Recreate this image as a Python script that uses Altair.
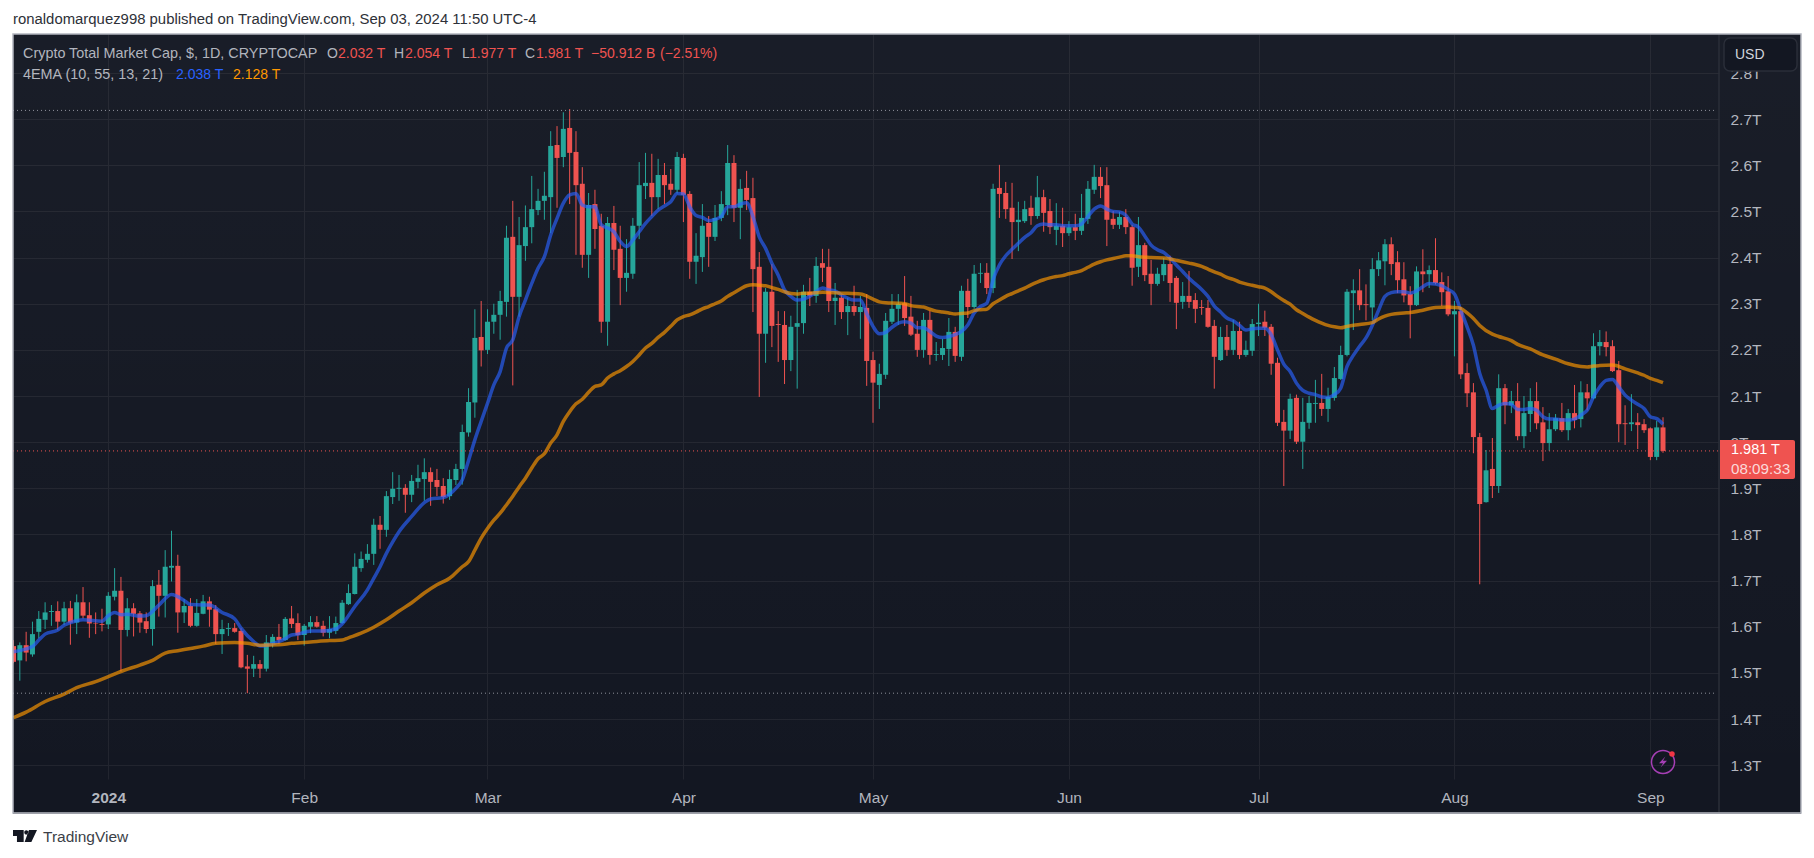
import altair as alt
import pandas as pd

first_session = "2023-12-17"

opens = [1.558,1.527,1.560,1.540,1.589,1.615,1.632,1.634,1.611,1.640,
1.609,1.653,1.625,1.608,1.606,1.605,1.665,1.678,1.593,1.640,
1.629,1.612,1.595,1.691,1.667,1.728,1.732,1.631,1.645,1.602,
1.628,1.655,1.638,1.584,1.595,1.597,1.591,1.514,1.509,1.519,
1.509,1.564,1.578,1.571,1.618,1.608,1.582,1.600,1.610,1.602,
1.587,1.591,1.608,1.649,1.671,1.727,1.745,1.758,1.821,1.810,
1.881,1.899,1.901,1.886,1.914,1.920,1.935,1.918,1.905,1.883,
1.918,1.942,2.021,2.086,2.228,2.200,2.261,2.276,2.304,2.445,
2.315,2.425,2.466,2.503,2.523,2.531,2.644,2.618,2.681,2.629,
2.560,2.406,2.516,2.469,2.261,2.475,2.419,2.356,2.365,2.469,
2.555,2.562,2.531,2.579,2.560,2.547,2.616,2.538,2.391,2.401,
2.475,2.445,2.486,2.514,2.605,2.508,2.551,2.529,2.380,2.235,
2.326,2.256,2.254,2.178,2.250,2.258,2.326,2.317,2.388,2.380,
2.306,2.313,2.282,2.295,2.282,2.291,2.178,2.124,2.146,2.261,
2.289,2.301,2.272,2.235,2.200,2.265,2.189,2.189,2.202,2.239,
2.185,2.328,2.293,2.365,2.367,2.334,2.551,2.540,2.508,2.477,
2.479,2.508,2.490,2.531,2.501,2.460,2.469,2.453,2.466,2.458,
2.484,2.547,2.575,2.557,2.484,2.471,2.488,2.466,2.380,2.427,
2.365,2.343,2.362,2.386,2.356,2.304,2.317,2.308,2.293,2.291,
2.252,2.178,2.228,2.200,2.241,2.189,2.198,2.256,2.261,2.250,
2.172,2.044,2.025,2.096,2.001,2.042,2.083,2.085,2.072,2.096,
2.137,2.189,2.323,2.329,2.299,2.292,2.375,2.392,2.429,2.390,
2.353,2.321,2.297,2.370,2.364,2.373,2.347,2.327,2.277,2.284,
2.150,2.108,2.011,1.870,1.942,1.905,2.117,2.080,2.089,2.013,
2.061,2.089,2.043,1.998,2.028,2.052,2.026,2.063,2.050,2.108,
2.095,2.208,2.217,2.208,2.156,2.041,2.039,2.043,2.039,2.030,
1.968,2.032]

closes = [1.524,1.560,1.544,1.584,1.617,1.631,1.634,1.611,1.640,1.609,
1.653,1.624,1.607,1.607,1.604,1.667,1.678,1.593,1.640,1.628,
1.609,1.595,1.688,1.667,1.730,1.732,1.631,1.645,1.602,1.630,
1.655,1.637,1.584,1.595,1.597,1.589,1.512,1.509,1.519,1.509,
1.566,1.578,1.571,1.617,1.606,1.582,1.602,1.610,1.600,1.587,
1.595,1.608,1.652,1.673,1.730,1.747,1.758,1.821,1.810,1.883,
1.899,1.901,1.886,1.916,1.922,1.935,1.914,1.903,1.881,1.920,
1.942,2.022,2.087,2.226,2.199,2.261,2.276,2.306,2.443,2.315,
2.427,2.466,2.505,2.523,2.534,2.642,2.616,2.679,2.627,2.557,
2.406,2.514,2.462,2.261,2.475,2.417,2.356,2.367,2.469,2.557,
2.562,2.531,2.579,2.557,2.547,2.618,2.536,2.391,2.404,2.469,
2.445,2.486,2.516,2.605,2.508,2.549,2.525,2.375,2.235,2.326,
2.252,2.254,2.178,2.250,2.258,2.326,2.317,2.382,2.378,2.306,
2.313,2.282,2.295,2.282,2.293,2.176,2.129,2.148,2.263,2.289,
2.300,2.269,2.233,2.200,2.265,2.189,2.191,2.204,2.239,2.187,
2.328,2.293,2.365,2.367,2.334,2.549,2.538,2.505,2.477,2.482,
2.505,2.490,2.531,2.497,2.466,2.469,2.453,2.466,2.458,2.486,
2.549,2.575,2.555,2.482,2.471,2.488,2.466,2.378,2.427,2.362,
2.343,2.365,2.386,2.345,2.302,2.317,2.304,2.289,2.291,2.250,
2.185,2.228,2.200,2.241,2.189,2.200,2.256,2.259,2.248,2.170,
2.042,2.025,2.094,2.001,2.044,2.085,2.085,2.072,2.098,2.139,
2.189,2.326,2.329,2.297,2.297,2.375,2.394,2.429,2.386,2.351,
2.318,2.297,2.370,2.364,2.373,2.345,2.325,2.277,2.284,2.147,
2.106,2.011,1.866,1.939,1.905,2.117,2.080,2.089,2.013,2.063,
2.089,2.041,1.998,2.028,2.052,2.026,2.063,2.048,2.108,2.095,
2.208,2.217,2.206,2.154,2.039,2.039,2.043,2.037,2.026,1.968,
2.032,1.981]

highs = [1.571,1.566,1.589,1.611,1.634,1.653,1.647,1.655,1.654,1.656,
1.670,1.686,1.653,1.631,1.639,1.675,1.727,1.708,1.662,1.651,
1.634,1.631,1.701,1.723,1.766,1.808,1.756,1.660,1.662,1.660,
1.669,1.665,1.647,1.615,1.608,1.608,1.597,1.539,1.537,1.528,
1.582,1.584,1.606,1.621,1.645,1.629,1.606,1.623,1.623,1.613,
1.623,1.622,1.658,1.692,1.759,1.763,1.779,1.834,1.840,1.894,
1.935,1.929,1.909,1.929,1.951,1.965,1.945,1.942,1.922,1.940,
1.953,2.038,2.117,2.288,2.306,2.288,2.300,2.328,2.469,2.523,
2.488,2.513,2.577,2.549,2.586,2.674,2.685,2.715,2.722,2.674,
2.596,2.540,2.547,2.495,2.488,2.512,2.469,2.440,2.486,2.607,
2.627,2.625,2.614,2.605,2.592,2.629,2.625,2.544,2.453,2.516,
2.490,2.514,2.544,2.644,2.622,2.570,2.588,2.573,2.412,2.334,
2.386,2.284,2.284,2.274,2.330,2.341,2.356,2.401,2.419,2.419,
2.345,2.319,2.313,2.339,2.317,2.321,2.196,2.170,2.280,2.321,
2.321,2.360,2.317,2.263,2.280,2.285,2.217,2.224,2.269,2.250,
2.339,2.354,2.384,2.388,2.388,2.560,2.601,2.564,2.562,2.521,
2.523,2.534,2.577,2.547,2.527,2.518,2.508,2.479,2.495,2.538,
2.566,2.601,2.596,2.596,2.501,2.499,2.505,2.471,2.488,2.432,
2.395,2.378,2.399,2.404,2.360,2.347,2.371,2.323,2.308,2.308,
2.265,2.250,2.254,2.265,2.261,2.220,2.267,2.300,2.285,2.256,
2.183,2.070,2.105,2.103,2.096,2.100,2.135,2.148,2.118,2.163,
2.209,2.332,2.353,2.375,2.342,2.399,2.412,2.440,2.444,2.414,
2.390,2.338,2.381,2.418,2.383,2.442,2.368,2.360,2.306,2.293,
2.171,2.128,2.020,1.983,2.009,2.147,2.126,2.111,2.128,2.100,
2.117,2.130,2.076,2.063,2.061,2.085,2.072,2.124,2.132,2.126,
2.236,2.243,2.240,2.221,2.176,2.080,2.104,2.063,2.050,2.032,
2.046,2.054]

lows = [1.521,1.483,1.525,1.535,1.575,1.595,1.602,1.593,1.604,1.561,
1.584,1.618,1.576,1.584,1.590,1.595,1.657,1.503,1.579,1.579,
1.587,1.586,1.559,1.622,1.620,1.698,1.587,1.608,1.599,1.600,
1.627,1.600,1.563,1.541,1.580,1.587,1.510,1.456,1.491,1.489,
1.503,1.555,1.563,1.570,1.597,1.571,1.559,1.586,1.598,1.579,
1.575,1.584,1.606,1.647,1.670,1.719,1.739,1.734,1.769,1.795,
1.866,1.873,1.847,1.870,1.900,1.873,1.862,1.883,1.867,1.875,
1.907,1.908,2.012,2.053,2.164,2.191,2.235,2.222,2.272,2.123,
2.272,2.393,2.431,2.492,2.482,2.453,2.508,2.596,2.516,2.406,
2.378,2.356,2.419,2.237,2.209,2.373,2.297,2.326,2.354,2.440,
2.527,2.490,2.505,2.516,2.536,2.539,2.477,2.354,2.343,2.369,
2.380,2.436,2.479,2.492,2.477,2.440,2.503,2.282,2.098,2.172,
2.206,2.174,2.126,2.154,2.116,2.235,2.295,2.302,2.347,2.282,
2.254,2.267,2.232,2.274,2.224,2.122,2.042,2.072,2.137,2.256,
2.254,2.252,2.230,2.185,2.183,2.168,2.176,2.178,2.165,2.174,
2.176,2.269,2.289,2.345,2.321,2.323,2.486,2.484,2.397,2.414,
2.475,2.471,2.484,2.456,2.451,2.427,2.423,2.447,2.438,2.449,
2.473,2.538,2.529,2.425,2.462,2.462,2.451,2.339,2.358,2.349,
2.297,2.339,2.349,2.304,2.245,2.289,2.291,2.258,2.276,2.248,
2.116,2.176,2.187,2.189,2.180,2.185,2.187,2.230,2.230,2.146,
2.035,1.905,2.007,1.996,1.942,2.029,2.042,2.057,2.044,2.090,
2.135,2.186,2.243,2.286,2.264,2.264,2.360,2.340,2.362,2.323,
2.303,2.225,2.295,2.325,2.334,2.342,2.295,2.273,2.186,2.137,
2.076,1.976,1.692,1.869,1.879,1.890,2.039,2.063,2.004,1.987,
2.022,2.028,1.959,1.981,2.024,2.022,2.004,2.030,2.032,2.069,
2.093,2.188,2.186,2.152,2.000,1.994,2.024,1.985,2.020,1.961,
1.961,1.977]

# EMA 13: (session number, value)
blue_sessions = [1,4,5,6,8,9,11,12,15,16,17,18,19,21,22,24,26,28,29,31,32,34,36,37,39,40,43,44,45,46,48,50,52,53,55,57,58,59,60,61,62,64,66,67,69,71,72,73]
blue_sessions += list(range(74, 263))
blue_values = [1.546,1.557,1.571,1.584,1.593,1.603,1.613,1.615,1.612,1.624,1.631,1.626,1.627,1.623,1.624,1.647,1.670,1.657,1.648,1.647,1.647,1.631,1.617,1.597,1.568,1.558,1.568,1.574,1.582,1.584,1.591,1.591,1.595,1.606,1.644,1.680,1.705,1.730,1.759,1.784,1.806,1.839,1.869,1.877,1.880,1.900,1.918,1.960,
2.005,2.045,2.084,2.124,2.153,2.204,2.222,2.272,2.308,2.344,2.377,2.402,2.449,2.485,2.518,2.536,2.539,2.514,2.510,2.510,
2.471,2.464,2.456,2.435,2.424,2.438,2.456,2.474,2.489,2.503,2.512,2.521,2.539,2.538,2.510,2.491,2.487,2.480,2.483,2.489,
2.510,2.510,2.516,2.519,2.489,2.445,2.420,2.388,2.362,2.330,2.316,2.308,2.310,2.316,2.326,2.334,2.330,2.328,2.319,2.312,
2.308,2.308,2.279,2.251,2.235,2.238,2.249,2.258,
2.261,2.258,2.248,2.248,2.240,2.230,2.227,2.229,2.233,2.240,2.254,2.280,2.294,2.301,2.352,2.384,2.404,2.418,2.431,2.444,
2.454,2.469,2.473,2.471,2.471,2.469,2.469,2.469,2.473,2.489,2.505,2.512,2.505,2.500,2.499,2.492,2.473,2.466,2.447,2.427,
2.417,2.411,2.399,2.384,2.370,2.355,2.343,2.331,2.316,2.295,2.282,2.269,2.263,2.253,2.243,2.246,2.247,2.247,2.233,2.200,
2.169,2.153,2.128,2.112,2.106,2.103,2.098,2.097,2.103,2.117,2.164,
2.188,2.208,2.226,2.253,2.286,2.316,2.324,2.326,2.326,2.323,2.328,2.337,2.344,2.343,2.339,2.331,2.321,2.286,2.250,2.210,
2.149,2.113,2.073,2.080,2.084,2.082,2.071,2.071,2.073,2.069,2.055,2.050,2.050,2.048,2.048,2.050,2.059,2.069,2.098,2.120,
2.134,2.136,2.120,2.102,2.091,2.082,2.073,2.055,2.051,2.039]

# EMA 55: (session number, value)
orange_pairs_sessions = [1,3,6,9,11,14,16,18,21,23,25,27,29,31,33,36,38,40,43,45,48,51,53,54,56,58,60,62,64,66,68,70,72,73,74,75,76,77,
78,79,80,81,82,83,84,85]
orange_pairs_sessions += list(range(86, 128))
orange_pairs_sessions += [129,132,135,137,138,139,141]
orange_pairs_sessions += list(range(142, 181))
orange_pairs_sessions += list(range(181, 213))
orange_pairs_sessions.remove(182)
orange_pairs_sessions += [214,216,217,218,219,221,222,224,226,228,229,230,231,232,233,235,236,238,239,241,243,245,247,249,250,251,252,254,256,258,259,260,261,262]
orange_values = [1.403,1.415,1.438,1.454,1.468,1.481,1.492,1.503,1.517,1.527,1.543,1.548,1.553,1.558,1.564,1.566,1.564,1.560,1.561,1.564,1.567,1.570,1.571,1.576,1.586,1.599,1.615,1.634,1.652,1.673,1.691,1.705,1.730,1.741,1.766,1.792,1.813,1.831,
1.846,1.864,1.883,1.903,1.922,1.944,1.964,1.975,
1.998,2.016,2.045,2.066,2.083,2.093,2.108,2.121,2.124,2.139,2.148,2.155,2.164,2.175,2.189,2.204,2.214,2.227,2.238,2.251,
2.265,2.272,2.276,2.282,2.289,2.294,2.300,2.306,2.316,2.324,2.332,2.339,2.341,2.340,2.339,2.335,2.331,2.326,2.322,2.321,2.323,2.323,
2.325,2.323,2.321,2.310,2.304,2.302,2.301,
2.300,2.296,2.294,2.293,2.288,2.284,2.282,2.280,2.278,2.279,2.280,2.285,2.287,2.288,2.300,2.308,2.316,2.322,2.328,2.334,
2.341,2.347,2.352,2.356,2.359,2.361,2.365,2.368,2.372,2.379,2.386,2.391,2.395,2.398,2.401,2.404,2.404,2.402,2.401,
2.400,2.399,2.397,2.394,2.391,2.388,2.385,2.381,2.375,2.369,2.364,2.357,2.353,2.347,2.343,2.340,2.337,2.334,2.326,2.316,
2.307,2.299,2.287,2.279,2.271,2.264,2.258,2.253,2.250,2.248,2.251,
2.255,2.259,2.267,2.273,2.277,2.280,2.281,2.286,2.292,2.293,2.292,2.290,2.280,2.268,2.253,2.234,2.229,2.220,2.212,2.202,2.189,2.180,2.170,2.164,2.163,2.165,2.166,2.167,2.159,2.150,2.145,2.138,2.134,2.129]

price_ticks = [1.3,1.4,1.5,1.6,1.7,1.8,1.9,2.0,2.1,2.2,2.3,2.4,2.5,2.6,2.7,2.8]
month_ticks = ["2024-01-01","2024-02-01","2024-03-01","2024-04-01","2024-05-01","2024-06-01","2024-07-01","2024-08-01","2024-09-01"]
range_high = 2.719
range_low = 1.456
last_close = 1.981

RED = "#ef5350"; GREEN = "#26a69a"; BG = "#131722"; GRID = "#22252f"; LINE = "#2a2e39"
TXT = "#b2b5be"; FONT = "Liberation Sans"

dates = pd.date_range(first_session, periods=len(opens), freq="D")
def ms(s):
    return int(pd.Timestamp(s).value // 10**6)

df = pd.DataFrame({"date": dates.strftime("%Y-%m-%d"), "o": opens, "h": highs, "l": lows, "c": closes})
df["up"] = df.c >= df.o
blue = pd.DataFrame({"date": [dates[n-1].strftime("%Y-%m-%d") for n in blue_sessions], "v": blue_values})
orange = pd.DataFrame({"date": [dates[n-1].strftime("%Y-%m-%d") for n in orange_pairs_sessions], "v": orange_values})

W, H = 1706, 745
FW = 1788; FH = 779
one = pd.DataFrame({"v": [0]})

xscale = alt.Scale(type="utc", domain=[ms("2023-12-16T22:05:00"), ms("2024-09-11T20:38:00")], nice=False, padding=0)
yscale = alt.Scale(domain=[1.27, 2.8846], nice=False, zero=False)

xaxis = alt.Axis(values=[ms(m) for m in month_ticks], title=None, domain=False, ticks=False,
                 grid=True, gridColor=GRID, gridWidth=1, labelColor=TXT, labelFont=FONT, labelFontSize=15.5,
                 labelPadding=11, labelOverlap=False, labelFlush=False,
                 labelFontWeight=alt.expr("utcmonth(datum.value)==0 ? 'bold' : 'normal'"),
                 labelExpr="utcmonth(datum.value)==0 ? utcFormat(datum.value,'%Y') : utcFormat(datum.value,'%b')")
yaxis = alt.Axis(values=price_ticks, orient="right", title=None, domain=False, ticks=False,
                 grid=True, gridColor=GRID, gridWidth=1, labelColor=TXT, labelFont=FONT, labelFontSize=15.5,
                 labelPadding=11, labelOverlap=False, labelFlush=False, labelAlign="left", labelBaseline="middle",
                 labelExpr="format(datum.value,'.1~f')+'T'")

X = alt.X("date:T", scale=xscale, axis=xaxis)

def rect(x, x2, y, y2, **kw):
    return alt.Chart(one).mark_rect(**kw).encode(x=alt.value(x), x2=alt.value(x2), y=alt.value(y), y2=alt.value(y2))

def label(text, x, y, color=TXT, size=14, weight="normal", align="left"):
    return alt.Chart(one).mark_text(text=text, color=color, fontSize=size, font=FONT, fontWeight=weight,
                                    align=align, baseline="middle").encode(x=alt.value(x - 13), y=alt.value(y - 34))

def shape(path, x, y, size, color):
    return alt.Chart(one).mark_point(shape=path, size=size, filled=True, color=color, opacity=1).encode(
        x=alt.value(x - 13), y=alt.value(y - 34))

gradient = alt.LinearGradient(gradient="linear", x1=0, x2=0, y1=0, y2=1, stops=[
    alt.GradientStop(color="rgba(255,255,255,0.028)", offset=0),
    alt.GradientStop(color="rgba(255,255,255,0)", offset=1)])

margins = [rect(-12, 0, -30, 825, color="white"), rect(FW, FW + 30, -30, 825, color="white"),
           rect(-12, FW + 30, -30, 0, color="white"), rect(-12, FW + 30, FH, 825, color="white")]
sheen = rect(0, FW, 0, FH, color=gradient)

Y = alt.Y("l:Q", scale=yscale, axis=yaxis)
colr = alt.condition("datum.up", alt.value(GREEN), alt.value(RED))

wicks = alt.Chart(df).mark_rule(strokeWidth=1, clip=True).encode(x=X, y=Y, y2="h:Q", color=colr)
bodies = alt.Chart(df).mark_bar(size=5, clip=True, stroke=None).encode(
    x=X, y=alt.Y("o:Q", scale=yscale, axis=yaxis), y2="c:Q", color=colr)
line_b = alt.Chart(blue).mark_line(color="#2962ff", opacity=0.65, strokeWidth=3.5, clip=True, interpolate="monotone").encode(
    x=X, y=alt.Y("v:Q", scale=yscale, axis=yaxis))
line_o = alt.Chart(orange).mark_line(color="#ff9800", opacity=0.66, strokeWidth=3.5, clip=True, interpolate="monotone").encode(
    x=X, y=alt.Y("v:Q", scale=yscale, axis=yaxis))

def hline(value, color, dash, x2=1703):
    d = pd.DataFrame({"v": [value]})
    return alt.Chart(d).mark_rule(color=color, strokeDash=dash, strokeWidth=1).encode(
        y=alt.Y("v:Q", scale=yscale, axis=yaxis), x=alt.value(0), x2=alt.value(x2))

rng_hi = hline(range_high, "#8f929b", [1, 3])
rng_lo = hline(range_low, "#8f929b", [1, 3])
last = hline(last_close, RED, [1, 3], W)

pane_v = rect(W, W + 0.01, 0, FH, stroke=LINE, strokeWidth=1, color=LINE)
pane_h = rect(0, FW, FH - 0.01 - 0, FH, stroke=LINE, strokeWidth=1, color=LINE)
frame = rect(0, FW, 0, FH, fillOpacity=0, stroke="#b2b5be", strokeWidth=1.5, color="white")

usd_box = rect(1724 - 13, 1797 - 13, 38 - 34, 71 - 34, color=BG, stroke=LINE, strokeWidth=1.5, cornerRadius=6)
price_box = rect(1720 - 13, 1795 - 13, 440 - 34, 479 - 34, color=RED, cornerRadiusTopRight=2, cornerRadiusBottomRight=2)

texts = [
    label("ronaldomarquez998 published on TradingView.com, Sep 03, 2024 11:50 UTC-4", 13, 20, "#2e3138", 14.9),
    label("Crypto Total Market Cap, $, 1D, CRYPTOCAP", 23, 54, size=14.4),
    label("O", 327, 54), label("2.032 T", 338, 54, RED),
    label("H", 394, 54), label("2.054 T", 405, 54, RED),
    label("L", 462, 54), label("1.977 T", 469, 54, RED),
    label("C", 525, 54), label("1.981 T", 536, 54, RED),
    label("\u221250.912 B", 591, 54, RED), label("(\u22122.51%)", 660, 54, RED),
    label("4EMA (10, 55, 13, 21)", 23, 75, size=14.4),
    label("2.038 T", 176, 75, "#2962ff"), label("2.128 T", 233, 75, "#ff9800"),
    label("USD", 1735, 55, "#d1d4dc", 14),
    label("1.981 T", 1731, 450, "white", 14.5),
    label("08:09:33", 1731, 469, "#fbd9d9", 15.2),
    label("TradingView", 43, 837, "#3c3f48", 15.5),
]

logo = shape("M-1,-0.49H-0.11V0.49H-0.67V0H-1Z M-0.06,-0.3a0.17,0.17 0 1,0 0.34,0a0.17,0.17 0 1,0 -0.34,0Z M0.33,-0.49H1L0.53,0.49H-0.03Z",
             25, 836, 576, BG)
ring = alt.Chart(one).mark_point(shape="circle", size=531, filled=False, color="#a63fb5", strokeWidth=1.5, opacity=1).encode(
    x=alt.value(1663 - 13), y=alt.value(762 - 34))
bolt = shape("M0.3,-0.7L-0.5,0.15H0L-0.3,0.7L0.5,-0.15H0Z", 1663, 762, 256, "#a63fb5")
dot = shape("circle", 1672, 754, 30, "#f23645")

chart = alt.layer(
    *margins, sheen,
    wicks, bodies, line_b, line_o, rng_hi, rng_lo, last,
    pane_v, pane_h, usd_box, price_box, frame, ring, bolt, dot, logo, *texts
).properties(
    width=W, height=H,
    background=BG,
    padding={"left": 5, "top": 26, "right": 85, "bottom": 70},
    autosize=alt.AutoSizeParams(type="none"),
).configure_view(stroke=None)

chart.save("out.html", embed_options={"renderer": "svg", "actions": False})
